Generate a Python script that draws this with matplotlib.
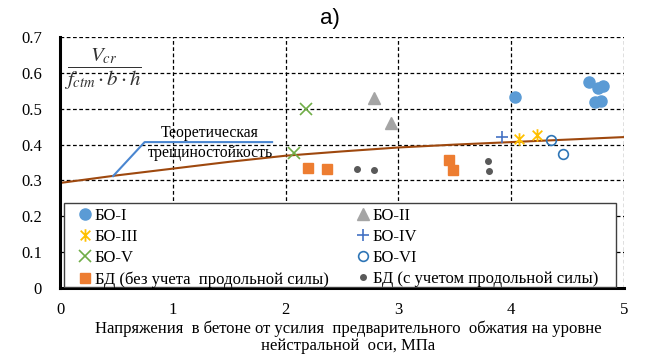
import numpy as np
import matplotlib.pyplot as plt
from matplotlib.path import Path
from matplotlib.patches import Rectangle

# data
bo1_x = [4.03, 4.69, 4.77, 4.81, 4.74, 4.80]
bo1_y = [0.532, 0.574, 0.557, 0.563, 0.518, 0.521]
bo2_x = [2.78, 2.93]
bo2_y = [0.529, 0.460]
bo3_x = [4.07, 4.23]
bo3_y = [0.415, 0.428]
bo4_x = [3.92]
bo4_y = [0.421]
bo5_x = [2.18, 2.07]
bo5_y = [0.499, 0.376]
bo6_x = [4.35, 4.46]
bo6_y = [0.412, 0.373]
bd1_x = [2.20, 2.37, 3.45, 3.48]
bd1_y = [0.334, 0.332, 0.357, 0.329]
bd2_x = [2.63, 2.78, 3.79, 3.80]
bd2_y = [0.331, 0.329, 0.354, 0.326]

theory_x = [0, 0.5, 1, 1.5, 2, 2.5, 3, 3.5, 4, 4.5, 5]
theory_y = [0.293, 0.314, 0.333, 0.352, 0.369, 0.381, 0.392, 0.400, 0.407, 0.414, 0.421]

plt.rcParams['font.family'] = ['Liberation Serif', 'DejaVu Serif']
plt.rcParams['mathtext.fontset'] = 'stix'

# excel-like asterisk: an x with a vertical bar
M, L = Path.MOVETO, Path.LINETO
star = Path([(-1, -1), (1, 1), (-1, 1), (1, -1), (0, -1.3), (0, 1.3)],
            [M, L, M, L, M, L])

fig = plt.figure(figsize=(6.49, 3.58), dpi=100)
ax = fig.add_axes([0.0925, 0.1955, 0.869, 0.701])

ax.plot(theory_x, theory_y, color='#9E480E', lw=1.5, zorder=3)

h1, = ax.plot(bo1_x, bo1_y, 'o', color='#5B9BD5', ms=8, zorder=4)
h2, = ax.plot(bo2_x, bo2_y, '^', color='#A5A5A5', ms=8, zorder=4)
h3, = ax.plot(bo3_x, bo3_y, marker=star, ls='none', color='#FFC000', ms=9, mew=1.3, zorder=4)
h4, = ax.plot(bo4_x, bo4_y, '+', color='#4472C4', ms=9, mew=1.2, zorder=4)
h5, = ax.plot(bo5_x, bo5_y, 'x', color='#70AD47', ms=8, mew=1.2, zorder=4)
h6, = ax.plot(bo6_x, bo6_y, 'o', mfc='none', mec='#2E75B6', ms=7, mew=1.2, zorder=4)
h7, = ax.plot(bd1_x, bd1_y, 's', color='#ED7D31', ms=7, zorder=4)
h8, = ax.plot(bd2_x, bd2_y, 'o', color='#595959', ms=4, zorder=4)

# annotation leader for the theoretical curve
ax.plot([0.47, 0.75, 1.88], [0.312, 0.407, 0.407], color='#4A86D0', lw=1.5, zorder=3)
ax.text(1.33, 0.421, 'Теоретическая', ha='center', va='baseline', fontsize=11.3)
ax.text(1.33, 0.366, 'трещиностойкость', ha='center', va='baseline', fontsize=11.3)

ax.text(0.076, 0.87, r'$\dfrac{V_{cr}}{f_{ctm}\cdot b\cdot h}$', transform=ax.transAxes,
        ha='center', va='center', fontsize=15, color='#333333')

ax.set_xlim(0, 5)
ax.set_ylim(0, 0.7)
ax.set_xticks(range(6))
ax.set_yticks(np.arange(0, 0.71, 0.1))
ax.set_yticklabels(['0', '0.1', '0.2', '0.3', '0.4', '0.5', '0.6', '0.7'])
ax.tick_params(axis='y', length=0, labelsize=12, pad=13)
ax.tick_params(axis='x', length=0, labelsize=12, pad=10)
ax.grid(True, color='black', linestyle=(0, (3, 2)), lw=0.9)
for s in ['top', 'right']:
    ax.spines[s].set_visible(False)
for s in ['left', 'bottom']:
    ax.spines[s].set_linewidth(2.2)
    ax.spines[s].set_zorder(5)

ax.set_xlabel('Напряжения  в бетоне от усилия  предварительного  обжатия на уровне\n'
              'нейстральной  оси, МПа', fontsize=12, labelpad=2, linespacing=1.1)
ax.xaxis.label.set_x(0.511)

# legend box drawn separately, entries filled row by row like the original
ax.add_patch(Rectangle((0.007, 0.004), 0.979, 0.335, transform=ax.transAxes,
                       facecolor='white', edgecolor='#404040', lw=1.0, zorder=5.5))
handles = [h1, h3, h5, h7, h2, h4, h6, h8]
labels = ['БО-I', 'БО-III', 'БО-V', 'БД (без учета  продольной силы)',
          'БО-II', 'БО-IV', 'БО-VI', 'БД (с учетом продольной силы)']
leg = ax.legend(handles, labels, ncol=2, loc='center', frameon=False,
                bbox_to_anchor=(0.4935, 0.16), fontsize=12,
                handlelength=0.7, handletextpad=0.25, labelspacing=0.3,
                columnspacing=1.7, borderpad=0, borderaxespad=0)
leg.set_zorder(6)

fig.text(0.509, 0.948, 'а)', fontsize=16, family='Liberation Sans', ha='center', va='center')

fig.savefig('out.png', dpi=100)
